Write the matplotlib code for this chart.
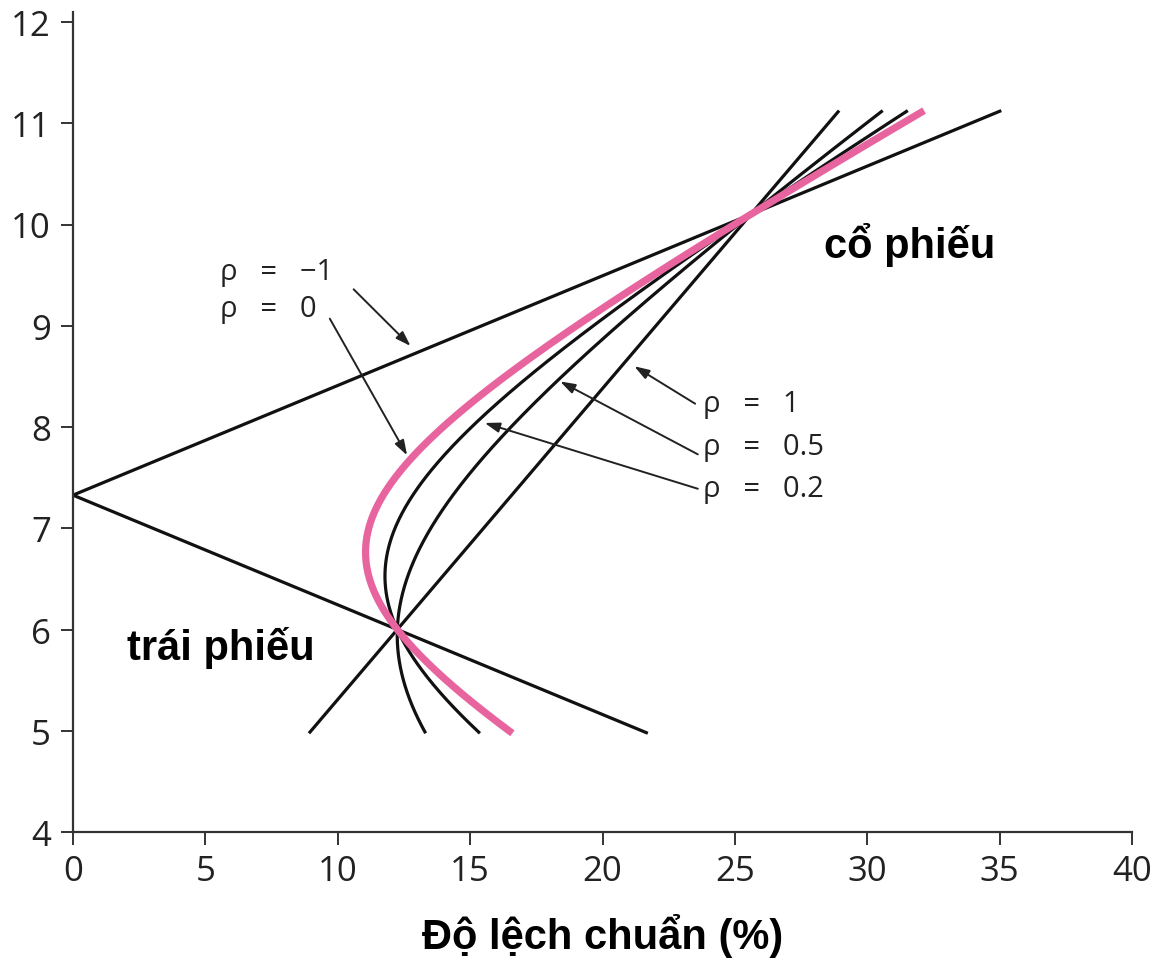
import numpy as np
import matplotlib
matplotlib.use("Agg")
import matplotlib.pyplot as plt

# two-asset inputs (bond / stock points where the curves cross)
bond_er, bond_sd = 6.0, 12.25
stock_er, stock_sd = 10.1, 25.6
w_stock_range = (-0.25, 1.25)
rhos = [-1.0, 1.0, 0.5, 0.2, 0.0]
rho_colors = ["#111111", "#111111", "#111111", "#111111", "#e8649e"]
rho_widths = [2.3, 2.3, 2.3, 2.3, 5.2]

xticks = [0, 5, 10, 15, 20, 25, 30, 35, 40]
yticks = [4, 5, 6, 7, 8, 9, 10, 11, 12]
xlabel = "Độ lệch chuẩn (%)"

# curve labels: text, text anchor (x, y), arrow tail, arrow head
labels = [
    ("ρ   =   −1", (5.55, 9.54), (10.6, 9.36), (12.75, 8.80)),
    ("ρ   =   0", (5.55, 9.17), (9.7, 9.07), (12.62, 7.72)),
    ("ρ   =   1", (23.8, 8.23), (23.5, 8.23), (21.2, 8.60)),
    ("ρ   =   0.5", (23.8, 7.81), (23.6, 7.73), (18.4, 8.45)),
    ("ρ   =   0.2", (23.8, 7.39), (23.6, 7.39), (15.55, 8.04)),
]

TICKFONT = ["Open Sans", "DejaVu Sans"]
BOLDFONT = ["Liberation Sans", "DejaVu Sans"]

fig = plt.figure(figsize=(11.55, 9.62), dpi=100)
ax = fig.add_axes([73 / 1155, 1 - 833 / 962, (1132 - 73) / 1155, (833 - 23) / 962])

w = np.linspace(w_stock_range[0], w_stock_range[1], 400)
for rho, col, lw in zip(rhos, rho_colors, rho_widths):
    er = (1 - w) * bond_er + w * stock_er
    var = ((1 - w) * bond_sd) ** 2 + (w * stock_sd) ** 2 + 2 * rho * w * (1 - w) * bond_sd * stock_sd
    sd = np.sqrt(np.clip(var, 0, None))
    ax.plot(sd, er, color=col, lw=lw, solid_capstyle="butt", zorder=3 if rho == 0 else 2)

for txt, pos, tail, head in labels:
    ax.text(pos[0], pos[1], txt, fontsize=21, family=TICKFONT, color="#222222", ha="left", va="center")
    ax.annotate("", xy=head, xytext=tail,
                arrowprops=dict(arrowstyle="-|>,head_length=0.9,head_width=0.3", lw=1.4, color="#222222",
                                shrinkA=0, shrinkB=0))

ax.text(31.6, 9.81, "cổ phiếu", fontsize=30, weight="bold", family=BOLDFONT, ha="center", va="center")
ax.text(5.6, 5.83, "trái phiếu", fontsize=30, weight="bold", family=BOLDFONT, ha="center", va="center")

ax.set_xlim(0, 40)
ax.set_ylim(4, 12)
ax.set_xticks(xticks)
ax.set_yticks(yticks)
for s in ["top", "right"]:
    ax.spines[s].set_visible(False)
for s in ["left", "bottom"]:
    ax.spines[s].set_linewidth(1.6)
    ax.spines[s].set_color("#333333")
ax.spines["left"].set_bounds(4, 12.1)
ax.tick_params(axis="both", direction="out", length=9, width=1.4, color="#333333", labelsize=25, pad=7)
for lab in ax.get_xticklabels() + ax.get_yticklabels():
    lab.set_family(TICKFONT)
    lab.set_color("#222222")
ax.set_xlabel(xlabel, fontsize=30, weight="bold", family=BOLDFONT, labelpad=18)

fig.savefig("out.png", dpi=100, facecolor="white")
